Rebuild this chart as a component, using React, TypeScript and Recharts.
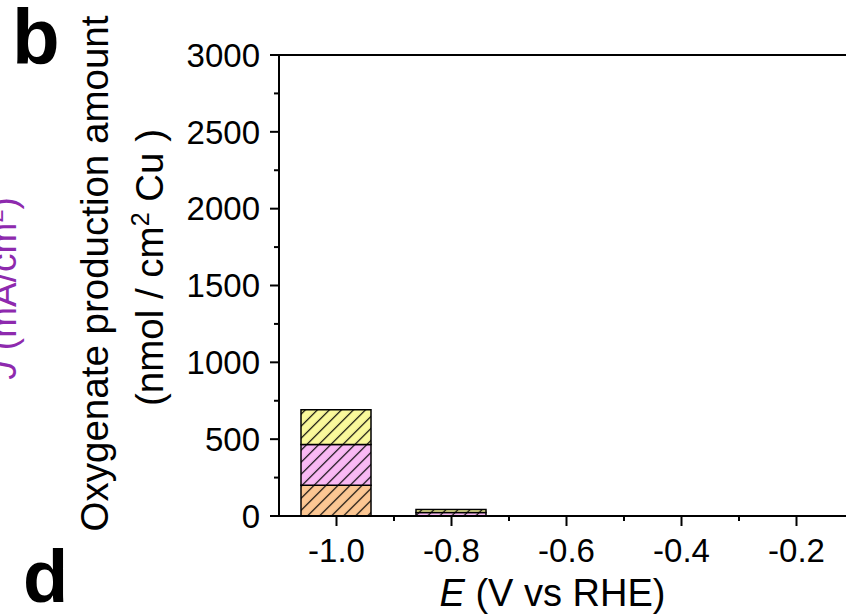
import React from "react";
import { BarChart, Bar, XAxis, YAxis, ReferenceLine } from "recharts";

// potentials (V vs RHE) and stacked oxygenate amounts (nmol / cm2 Cu)
const potentials = [-1.0, -0.8];
const orangePart = [200, 0];
const pinkPart = [265, 22];
const yellowPart = [227, 20];

const yTicks = [0, 250, 500, 750, 1000, 1250, 1500, 1750, 2000, 2250, 2500, 2750, 3000];
const xTicks = [-1.0, -0.9, -0.8, -0.7, -0.6, -0.5, -0.4, -0.3, -0.2, -0.1];

const data = potentials.map((e, i) => ({
  e,
  orange: orangePart[i],
  pink: pinkPart[i],
  yellow: yellowPart[i],
}));

const FONT = "'Liberation Sans', Arial, sans-serif";

const YTick = (props: any) => {
  const { x, y, payload } = props;
  const major = payload.value % 500 === 0;
  return (
    <g>
      <line x1={x - (major ? 9 : 5)} y1={y} x2={x} y2={y} stroke="#000" strokeWidth={2} />
      {major && (
        <text x={x - 19} y={y} dy={11.8} textAnchor="end" fontSize={33} fontFamily={FONT} fill="#000">
          {payload.value}
        </text>
      )}
    </g>
  );
};

const XTick = (props: any) => {
  const { x, y, payload } = props;
  const major = Math.round(payload.value * 10) % 2 === 0;
  return (
    <g>
      <line x1={x} y1={y} x2={x} y2={y + (major ? 10 : 5)} stroke="#000" strokeWidth={2} />
      {major && (
        <text x={x} y={y + 46} textAnchor="middle" fontSize={33} fontFamily={FONT} fill="#000">
          {payload.value.toFixed(1)}
        </text>
      )}
    </g>
  );
};

const YTitle = (props: any) => {
  const { viewBox } = props;
  const cy = viewBox.y + viewBox.height / 2 - 12;
  return (
    <g fontFamily={FONT} fontSize={38.5} fill="#000">
      <text transform={`translate(108, ${cy}) rotate(-90)`} textAnchor="middle">
        Oxygenate production amount
      </text>
      <text transform={`translate(163, ${cy - 6}) rotate(-90)`} textAnchor="middle">
        (nmol / cm
        <tspan dy={-14} fontSize={25}>2</tspan>
        <tspan dy={14}> Cu )</tspan>
      </text>
    </g>
  );
};

const XTitle = (props: any) => {
  const { viewBox } = props;
  return (
    <text
      x={viewBox.x + viewBox.width / 2 - 14}
      y={606}
      textAnchor="middle"
      fontFamily={FONT}
      fontSize={38}
      fill="#000"
    >
      <tspan fontStyle="italic">E</tspan> (V vs RHE)
    </text>
  );
};

const hatch = (id: string, color: string) => (
  <pattern
    id={id}
    patternUnits="userSpaceOnUse"
    width={8.5}
    height={8.5}
    patternTransform="rotate(45)"
  >
    <rect width={8.5} height={8.5} fill={color} />
    <line x1={4.25} y1={0} x2={4.25} y2={8.5} stroke="#000" strokeWidth={1.2} />
  </pattern>
);

export default function App() {
  return (
    <div
      style={{
        position: "absolute",
        left: 0,
        top: 0,
        width: 846,
        height: 614,
        overflow: "hidden",
        background: "#fff",
      }}
    >
      <BarChart
        width={900}
        height={614}
        data={data}
        margin={{ top: 55, right: 46, bottom: 0, left: 0 }}
      >
        <defs>
          {hatch("hOrange", "#FCC793")}
          {hatch("hPink", "#F9B9F4")}
          {hatch("hYellow", "#FAF99B")}
        </defs>
        <XAxis
          dataKey="e"
          type="number"
          domain={[-1.1, -0.1]}
          ticks={xTicks}
          interval={0}
          height={98}
          tickSize={0}
          tickMargin={0}
          tickLine={false}
          tick={<XTick />}
          axisLine={{ stroke: "#000", strokeWidth: 2 }}
          allowDataOverflow
          label={<XTitle />}
        />
        <YAxis
          type="number"
          domain={[0, 3000]}
          ticks={yTicks}
          interval={0}
          width={279}
          tickSize={0}
          tickMargin={0}
          tickLine={false}
          tick={<YTick />}
          axisLine={{ stroke: "#000", strokeWidth: 2 }}
          label={<YTitle />}
        />
        <ReferenceLine y={3000} stroke="#000" strokeWidth={2} />
        <Bar dataKey="orange" stackId="s" barSize={70} fill="url(#hOrange)" stroke="#000" strokeWidth={1.5} isAnimationActive={false} />
        <Bar dataKey="pink" stackId="s" barSize={70} fill="url(#hPink)" stroke="#000" strokeWidth={1.5} isAnimationActive={false} />
        <Bar dataKey="yellow" stackId="s" barSize={70} fill="url(#hYellow)" stroke="#000" strokeWidth={1.5} isAnimationActive={false} />
      </BarChart>
      <svg
        width={846}
        height={614}
        style={{ position: "absolute", left: 0, top: 0, pointerEvents: "none" }}
      >
        <text x={12} y={64} fontFamily={FONT} fontWeight="bold" fontSize={78} fill="#000">
          b
        </text>
        <text x={23} y={602} fontFamily={FONT} fontWeight="bold" fontSize={74} fill="#000">
          d
        </text>
        <text
          transform="translate(16, 288) rotate(-90)"
          textAnchor="middle"
          fontFamily={FONT}
          fontSize={37}
          fill="#8E2AAE"
        >
          <tspan fontStyle="italic">J</tspan> (mA/cm
          <tspan dy={-13} fontSize={24}>2</tspan>
          <tspan dy={13}>)</tspan>
        </text>
      </svg>
    </div>
  );
}
